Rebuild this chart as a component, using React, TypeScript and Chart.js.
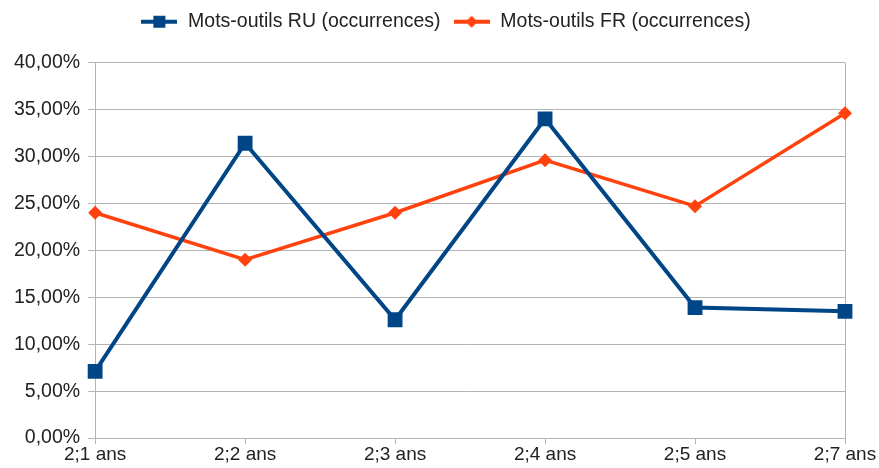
import React, { useEffect, useRef } from 'react';
import { Chart, registerables } from 'chart.js';

Chart.register(...registerables);

const categories = ['2;1 ans', '2;2 ans', '2;3 ans', '2;4 ans', '2;5 ans', '2;7 ans'];
const seriesNames = ['Mots-outils RU (occurrences)', 'Mots-outils FR (occurrences)'];
const ruValues = [7.1, 31.4, 12.6, 34.0, 13.9, 13.5];
const frValues = [24.0, 19.0, 24.0, 29.6, 24.7, 34.6];
const yMin = 0;
const yMax = 40;
const yStep = 5;

const RU_COLOR = '#004586';
const FR_COLOR = '#ff420e';
const GRID = '#b3b3b3';
const FONT = "'Liberation Sans', Arial, sans-serif";

function makeIcon(color: string, shape: 'square' | 'diamond'): HTMLCanvasElement {
  const c = document.createElement('canvas');
  c.width = 36;
  c.height = 16;
  const ctx = c.getContext('2d')!;
  ctx.strokeStyle = color;
  ctx.lineWidth = 4;
  ctx.beginPath();
  ctx.moveTo(0, 8);
  ctx.lineTo(36, 8);
  ctx.stroke();
  ctx.fillStyle = color;
  if (shape === 'square') {
    ctx.fillRect(12, 2, 12, 12);
  } else {
    ctx.beginPath();
    ctx.moveTo(18, 2);
    ctx.lineTo(24, 8);
    ctx.lineTo(18, 14);
    ctx.lineTo(12, 8);
    ctx.closePath();
    ctx.fill();
  }
  return c;
}

const legendMargin = {
  id: 'legendMargin',
  beforeInit(chart: any) {
    const fit = chart.legend.fit;
    chart.legend.fit = function () {
      fit.bind(chart.legend)();
      this.height += 21;
    };
  },
  afterLayout(chart: any) {
    if (chart.legend) {
      chart.legend.left += 20;
      chart.legend.right += 20;
    }
  },
};

export default function App() {
  const ref = useRef<HTMLCanvasElement | null>(null);

  useEffect(() => {
    if (!ref.current) return;
    const icons = [makeIcon(RU_COLOR, 'square'), makeIcon(FR_COLOR, 'diamond')];
    const chart = new Chart(ref.current, {
      type: 'line',
      data: {
        labels: categories,
        datasets: [
          {
            label: seriesNames[0],
            data: ruValues,
            borderColor: RU_COLOR,
            backgroundColor: RU_COLOR,
            borderWidth: 4,
            pointStyle: 'rect',
            pointRadius: 10.5,
            pointHoverRadius: 10.5,
            pointBorderWidth: 0,
            tension: 0,
          },
          {
            label: seriesNames[1],
            data: frValues,
            borderColor: FR_COLOR,
            backgroundColor: FR_COLOR,
            borderWidth: 3.5,
            pointStyle: 'rectRot',
            pointRadius: 7,
            pointHoverRadius: 7,
            pointBorderWidth: 0,
            tension: 0,
          },
        ],
      },
      plugins: [legendMargin],
      options: {
        responsive: false,
        animation: false,
        layout: { padding: { left: 6, right: 34, top: 0, bottom: 3 } },
        plugins: {
          tooltip: { enabled: false },
          legend: {
            position: 'top',
            align: 'center',
            labels: {
              usePointStyle: true,
              pointStyleWidth: 38,
              padding: 12,
              color: '#222',
              font: { family: FONT, size: 19.5 },
              generateLabels: (ch: any) =>
                ch.data.datasets.map((ds: any, i: number) => ({
                  text: ds.label,
                  pointStyle: icons[i],
                  fillStyle: ds.borderColor,
                  strokeStyle: ds.borderColor,
                  lineWidth: 0,
                  hidden: false,
                  datasetIndex: i,
                  fontColor: '#222',
                })),
            },
          },
        },
        scales: {
          x: {
            offset: false,
            grid: {
              color: (c: any) => (c.index === 0 || c.index === categories.length - 1 ? GRID : 'rgba(0,0,0,0)'),
              tickColor: GRID,
              tickLength: 6,
              lineWidth: 1,
            },
            border: { color: GRID },
            ticks: {
              color: '#222',
              font: { family: FONT, size: 19, lineHeight: 1.1 },
              padding: 0,
              maxRotation: 0,
              autoSkip: false,
            },
          },
          y: {
            min: yMin,
            max: yMax,
            grid: { color: GRID, tickColor: GRID, tickLength: 7 },
            border: { color: GRID },
            ticks: {
              stepSize: yStep,
              color: '#222',
              font: { family: FONT, size: 19.5 },
              padding: 8,
              callback: (v: any) => Number(v).toFixed(2).replace('.', ',') + '%',
            },
          },
        },
      },
    });
    return () => chart.destroy();
  }, []);

  return (
    <div style={{ position: 'fixed', left: 0, top: 0, width: 879, height: 468, background: '#fff' }}>
      <canvas ref={ref} width={879} height={468} style={{ display: 'block' }} />
    </div>
  );
}
